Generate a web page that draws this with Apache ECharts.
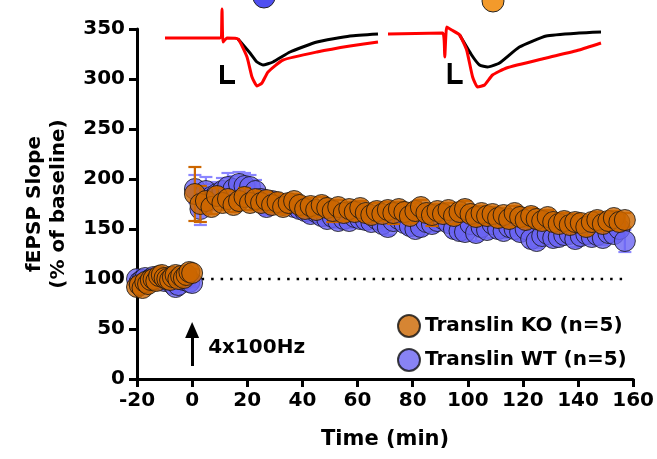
<!DOCTYPE html>
<html>
<head>
<meta charset="utf-8">
<script src="https://cdn.jsdelivr.net/npm/echarts@6/dist/echarts.min.js"></script>
<style>
  html, body { margin: 0; padding: 0; background: #fff; }
  #chart { width: 657px; height: 459px; }
</style>
</head>
<body>
<div id="chart"></div>
<script>
// time points (min)
var tBase = [-20,-19,-18,-17,-16,-15,-14,-13,-12,-11,-10,-9,-8,-7,-6,-5,-4,-3,-2,-1,0];
var tPost = [1,3,5,7,9,11,13,15,17,19,21,23,25,27,29,31,33,35,37,39,
             41,43,45,47,49,51,53,55,57,59,61,63,65,67,69,71,73,75,77,79,
             81,83,85,87,89,91,93,95,97,99,101,103,105,107,109,111,113,115,117,119,
             121,123,125,127,129,131,133,135,137,139,141,143,145,147,149,151,153,155,157];

// Translin KO, % of baseline
var koBase = [92,94,91,97,95,99,100,98,103,104,101,100,99,102,104,100,103,101,104,107,106];
var koBaseErr = [4,3,4,3,4,3,4,3,4,3,4,3,4,3,4,3,4,3,4,3,4];
var koPost = [185,175,178,172,183,176,180,174,178,182,
              176,180,176,179,174,177,172,176,178,174,
              170,173,169,174,171,168,172,166,170,167,
              171,166,164,168,165,169,166,170,167,163,
              168,172,166,164,168,165,169,163,167,170,
              165,162,166,163,165,161,164,160,166,162,
              159,163,160,158,162,157,155,158,154,157,
              156,152,157,159,155,158,161,157,159];
var koErr = [27,18,8,7,8,7,8,7,8,9, 7,8,7,8,7,8,7,8,7,8,
             7,8,7,8,7,11,7,8,7,8, 7,8,7,8,7,8,11,7,8,7,
             8,7,8,11,7,8,7,8,7,8, 7,8,7,8,7,8,7,8,7,8,
             7,8,7,8,7,8,7,8,7,8, 7,8,7,8,7,8,7,8,7];

// Translin WT, % of baseline
var wtBase = [100,97,99,101,98,100,102,99,101,100,98,100,102,95,92,94,100,99,101,97,96];
var wtBaseErr = [4,3,4,3,4,3,4,3,4,3,4,3,4,3,4,3,4,3,4,3,4];
var wtPost = [190,170,188,182,185,188,192,190,195,193,
              192,188,180,172,178,176,174,175,172,170,
              168,165,167,163,160,162,158,160,158,162,
              160,159,157,160,155,152,158,160,156,153,
              150,152,157,155,158,160,156,150,148,147,
              155,146,152,149,155,150,148,152,150,147,
              150,140,138,143,145,141,142,144,145,140,
              143,145,142,144,141,146,145,150,138];
var wtErr = [14,16,14,13,12,13,14,13,12,13, 12,11,9,8,7,8,7,8,7,8,
             7,8,7,8,7,8,7,8,7,8, 7,8,7,8,7,8,7,8,7,8,
             7,8,7,8,7,8,7,8,7,8, 7,8,7,8,7,8,7,8,7,8,
             7,8,7,8,7,8,7,8,7,8, 7,8,7,8,7,8,7,8,11];

// inset traces (time units, mV-ish relative to baseline)
var wtRedT = [0.2,5.7,5.9,6.0,6.4,7.5,8.4,8.9,9.4,9.9,10.5,12.0,15.4,18.7,21.5];
var wtRedV = [0,0,29,-4,0,-1,-19,-39,-48,-45,-34,-22,-14,-8,-4];
var wtBlkT = [7.5,8.7,9.4,10.0,11.0,12.7,15.4,18.7,21.5];
var wtBlkV = [-1,-15,-24,-27,-24,-14,-4,2,4];
var koRedT = [0,5.5,5.7,5.9,6.4,7.2,7.9,8.5,9.0,9.7,10.5,11.9,15.9,19.2,21.4];
var koRedV = [0,1,-23,7,4,-1,-16,-43,-53,-51,-41,-34,-24,-16,-9];
var koBlkT = [7.2,8.4,9.2,10.0,11.2,13.2,15.9,19.2,21.4];
var koBlkV = [-1,-21,-31,-33,-29,-13,-2,1,2];
var wtScale = [[5.9,-27],[5.9,-44],[7.2,-44]];
var koScale = [[6.2,-29],[6.2,-48],[7.5,-48]];

var KO_COLOR = '#cc6600',
    WT_COLOR = '#6a64f2',
    FONT = 'DejaVu Sans';

function zip(a, b) {
	var out = [];
	for (var i = 0; i < a.length; i++) out.push([a[i], b[i]]);
	return out;
}
function points(t, v, e) {
	var out = [];
	for (var i = 0; i < t.length; i++) out.push([t[i], v[i], e[i]]);
	return out;
}

var koData = points(tBase, koBase, koBaseErr).concat(points(tPost, koPost, koErr));
var wtData = points(tBase, wtBase, wtBaseErr).concat(points(tPost, wtPost, wtErr));

function errorBars(color) {
	return function (params, api) {
		var x = api.value(0), y = api.value(1), e = api.value(2);
		var hi = api.coord([x, y + e]), lo = api.coord([x, y - e]);
		var hw = 6.5;
		var st = { stroke: color, lineWidth: 2.2 };
		return {
			type: 'group',
			children: [
				{ type: 'line', shape: { x1: hi[0], y1: hi[1], x2: lo[0], y2: lo[1] }, style: st },
				{ type: 'line', shape: { x1: hi[0] - hw, y1: hi[1], x2: hi[0] + hw, y2: hi[1] }, style: st },
				{ type: 'line', shape: { x1: lo[0] - hw, y1: lo[1], x2: lo[0] + hw, y2: lo[1] }, style: st }
			]
		};
	};
}

function trace(name, data, color, xi) {
	return {
		name: name, type: 'line', xAxisIndex: xi, yAxisIndex: xi,
		data: data, showSymbol: false, silent: true, smooth: 0.15,
		lineStyle: { color: color, width: 3 }, z: 3
	};
}

var mychart = echarts.init(document.getElementById('chart'));
var axisFont = { fontFamily: FONT, fontWeight: 'bold', fontSize: 20, color: '#000' };

var option = {
	animation: false,
	grid: [
		{ left: 137, right: 20, top: 29, bottom: 80 },
		{ left: 163, top: 5, width: 215, height: 85 },
		{ left: 388, top: 5, width: 214, height: 85 }
	],
	legend: {
		orient: 'vertical',
		left: 392, top: 309,
		itemWidth: 22, itemHeight: 22, itemGap: 10,
		icon: 'circle',
		textStyle: { fontFamily: FONT, fontWeight: 'bold', fontSize: 20, color: '#000' },
		data: ['Translin KO (n=5)', 'Translin WT (n=5)']
	},
	xAxis: [
		{
			type: 'value', min: -20, max: 160, interval: 20,
			name: 'Time (min)', nameLocation: 'middle', nameGap: 50,
			nameTextStyle: { fontFamily: FONT, fontWeight: 'bold', fontSize: 21, color: '#000' },
			axisLine: { onZero: false, lineStyle: { color: '#000', width: 3 } },
			axisTick: { length: 8, lineStyle: { color: '#000', width: 3 } },
			axisLabel: Object.assign({ margin: 12 }, axisFont),
			splitLine: { show: false }
		},
		{ gridIndex: 1, type: 'value', min: 0, max: 21.5, show: false },
		{ gridIndex: 2, type: 'value', min: 0, max: 21.5, show: false }
	],
	yAxis: [
		{
			type: 'value', min: 0, max: 350, interval: 50,
			name: 'fEPSP Slope\n(% of baseline)', nameLocation: 'middle', nameGap: 66, nameRotate: 90,
			nameTextStyle: { fontFamily: FONT, fontWeight: 'bold', fontSize: 20, color: '#000', lineHeight: 24 },
			axisLine: { show: true, onZero: false, lineStyle: { color: '#000', width: 3 } },
			axisTick: { show: true, length: 8, lineStyle: { color: '#000', width: 3 } },
			axisLabel: Object.assign({ margin: 12 }, axisFont),
			splitLine: { show: false }
		},
		{ gridIndex: 1, type: 'value', min: -52, max: 33, show: false },
		{ gridIndex: 2, type: 'value', min: -56, max: 29, show: false }
	],
	series: [
		{
			name: 'baseline', type: 'line', silent: true, showSymbol: false, z: 1,
			data: [[0, 100], [156, 100]],
			lineStyle: { color: '#000', width: 2.5, type: [2.5, 7] }
		},
		{
			name: 'stim', type: 'line', data: [], silent: true,
			markLine: {
				silent: true, symbol: ['none', 'triangle'], symbolSize: [14, 16],
				lineStyle: { color: '#000', width: 3, type: 'solid' },
				label: { show: false },
				data: [[{ coord: [0, 13] }, { coord: [0, 49] }]]
			}
		},
		{
			name: 'wtErr', type: 'custom', renderItem: errorBars('#8a86ff'),
			data: wtData, encode: { x: 0, y: 1 }, z: 2, silent: true
		},
		{
			name: 'Translin WT (n=5)', type: 'scatter', data: wtData, symbolSize: 21,
			itemStyle: { color: WT_COLOR, borderColor: '#111', borderWidth: 1 }, z: 3
		},
		{
			name: 'koErr', type: 'custom', renderItem: errorBars(KO_COLOR),
			data: koData, encode: { x: 0, y: 1 }, z: 4, silent: true
		},
		{
			name: 'Translin KO (n=5)', type: 'scatter', data: koData, symbolSize: 21,
			itemStyle: { color: KO_COLOR, borderColor: '#111', borderWidth: 1 }, z: 5
		},
		// inset traces
		trace('wtBlack', zip(wtBlkT, wtBlkV), '#000', 1),
		trace('wtRed', zip(wtRedT, wtRedV), '#ff0000', 1),
		{ name: 'wtBar', type: 'line', xAxisIndex: 1, yAxisIndex: 1, data: wtScale, showSymbol: false, silent: true,
		  lineStyle: { color: '#000', width: 4, join: 'miter' } },
		trace('koBlack', zip(koBlkT, koBlkV), '#000', 2),
		trace('koRed', zip(koRedT, koRedV), '#ff0000', 2),
		{ name: 'koBar', type: 'line', xAxisIndex: 2, yAxisIndex: 2, data: koScale, showSymbol: false, silent: true,
		  lineStyle: { color: '#000', width: 4, join: 'miter' } }
	]
};

mychart.setOption(option);

// stimulus text and the group dots over the traces
var p = mychart.convertToPixel({ gridIndex: 0 }, [0, 29]);
mychart.setOption({
	graphic: [
		{ type: 'text', left: p[0] + 16, top: p[1] - 12,
		  style: { text: '4x100Hz', font: 'bold 20px "DejaVu Sans"', fill: '#000' } },
		{ type: 'circle', shape: { cx: 264, cy: -3, r: 11 },
		  style: { fill: '#4f4ff0', stroke: '#222', lineWidth: 1 } },
		{ type: 'circle', shape: { cx: 493, cy: 1, r: 11 },
		  style: { fill: '#f39a2b', stroke: '#222', lineWidth: 1 } }
	]
});
</script>
</body>
</html>
